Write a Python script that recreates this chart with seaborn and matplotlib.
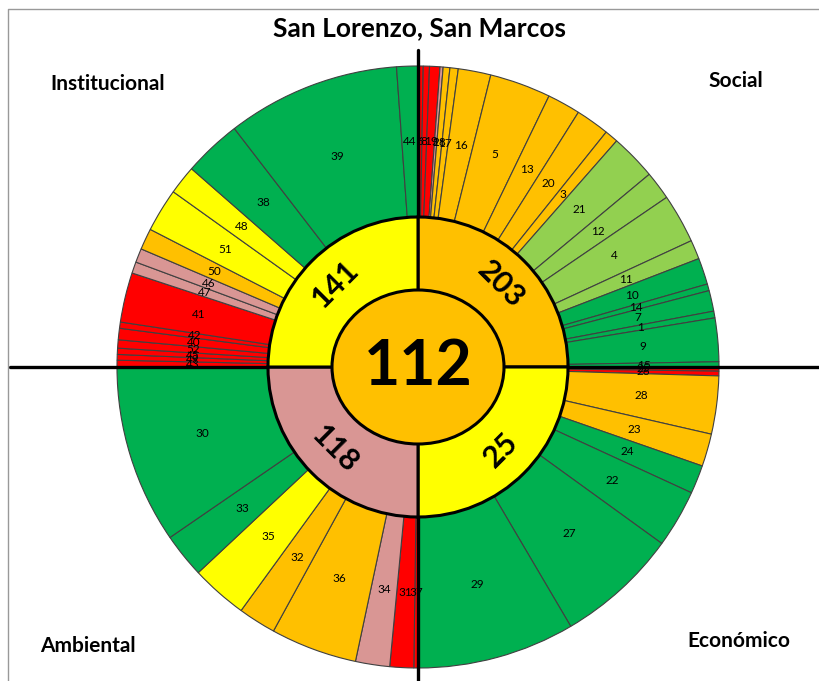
import numpy as np
import matplotlib
matplotlib.use("Agg")
import matplotlib.pyplot as plt
from matplotlib.patches import Ellipse
from matplotlib.lines import Line2D
import seaborn as sns

# indicator ids, angular share (deg) and status colour key, clockwise from the top
social_ids = ["6", "8", "19", "2", "18", "17", "16", "5", "13", "20", "3",
              "21", "12", "4", "11", "10", "14", "7", "1", "9", "15"]
social_deg = [1.0, 1.2, 2.0, 0.6, 1.3, 1.6, 6.3, 11.8, 6.4, 6.5, 2.6,
              8.9, 5.5, 9.5, 3.7, 5.1, 1.3, 4.0, 1.3, 8.4, 1.0]
social_status = ["red", "red", "red", "pink", "orange", "orange", "orange", "orange",
                 "orange", "orange", "orange", "lgreen", "lgreen", "lgreen", "lgreen",
                 "green", "green", "green", "green", "green", "green"]

econ_ids = ["25", "26", "28", "23", "24", "22", "27", "29"]
econ_deg = [0.8, 0.9, 11.2, 6.3, 5.5, 11.2, 23.6, 30.5]
econ_status = ["red", "red", "orange", "orange", "green", "green", "green", "green"]

amb_ids = ["37", "31", "34", "36", "32", "35", "33", "30"]
amb_deg = [0.8, 4.6, 6.6, 16.7, 7.3, 10.9, 8.6, 34.5]
amb_status = ["red", "red", "pink", "orange", "orange", "yellow", "green", "green"]

inst_ids = ["43", "49", "45", "52", "40", "42", "41", "47", "46", "50",
            "51", "48", "38", "39", "44"]
inst_deg = [1.3, 1.1, 1.2, 1.6, 2.2, 1.2, 9.6, 2.2, 2.7, 4.1,
            8.4, 5.6, 11.2, 33.5, 4.1]
inst_status = ["red", "red", "red", "red", "red", "red", "red", "pink", "pink", "orange",
               "yellow", "yellow", "green", "green", "green"]

dimensions = ["Social", "Económico", "Ambiental", "Institucional"]
dim_scores = [203, 25, 118, 141]
dim_status = ["orange", "yellow", "pink", "yellow"]
total_score = 112
title = "San Lorenzo, San Marcos"

palette = {"red": "#FF0000", "pink": "#D99694", "orange": "#FFC000",
           "yellow": "#FFFF00", "lgreen": "#92D050", "green": "#00B050"}

sns.set_theme(style="white")
plt.rcParams["font.family"] = ["Lato", "DejaVu Sans"]
plt.rcParams["text.color"] = "black"

W, H = 819, 681
cx, cy, R = 418, 367, 301  # centre and outer radius in pixels
fig = plt.figure(figsize=(W / 100, H / 100), dpi=100)
ax = fig.add_axes([0, 0, 1, 1])

outer_ids = social_ids + econ_ids + amb_ids + inst_ids
outer_deg = social_deg + econ_deg + amb_deg + inst_deg
outer_cols = [palette[s] for s in social_status + econ_status + amb_status + inst_status]

r_mid = 150 / R
ax.pie(outer_deg, labels=outer_ids, colors=outer_cols, radius=1.0, startangle=90,
       counterclock=False, labeldistance=(1 + r_mid) / 2,
       wedgeprops=dict(width=1 - r_mid, edgecolor="#404040", linewidth=0.8),
       textprops=dict(ha="center", va="center", fontsize=8.5, color="black"))

# quadrant cross
ax.axvline(0, ymin=0, ymax=1 - 50 / H, color="black", lw=2.4, zorder=2)
ax.axhline(0, xmin=10 / W, xmax=1, color="black", lw=2.4, zorder=2)

wedges, texts = ax.pie([90] * 4, labels=[str(v) for v in dim_scores],
                       colors=[palette[s] for s in dim_status], radius=r_mid,
                       startangle=90, counterclock=False, labeldistance=0.78,
                       wedgeprops=dict(width=r_mid - 0.2, edgecolor="black",
                                       linewidth=2.2, zorder=3),
                       textprops=dict(ha="center", va="center", fontsize=22,
                                      fontweight="bold", color="black", zorder=6))
for t in texts:
    x, y = t.get_position()
    rot = np.degrees(np.arctan2(y, x)) - 90
    if rot <= -90:
        rot += 180
    t.set_rotation(rot)
    t.set_rotation_mode("anchor")

ax.add_patch(Ellipse((0, 0), 172 / R, 154 / R, facecolor=palette["orange"],
                     edgecolor="black", lw=2.2, zorder=4))
ax.text(0, 0, str(total_score), ha="center", va="center", fontsize=45,
        fontweight="bold", color="black", zorder=6)

ax.set_xlim(-cx / R, (W - cx) / R)
ax.set_ylim(-(H - cy) / R, cy / R)
ax.set_aspect("equal")
ax.axis("off")

fig.text(420 / W, 1 - 28 / H, title, ha="center", va="center", fontsize=19,
         fontweight="bold", color="black")
corner_pos = [(736, 81), (739, 641), (88, 646), (108, 84)]
for name, (px, py) in zip(dimensions, corner_pos):
    fig.text(px / W, 1 - py / H, name, ha="center", va="center", fontsize=15,
             fontweight="bold", color="black")

fig.add_artist(Line2D([8 / W, 8 / W, 1], [0, 1 - 9 / H, 1 - 9 / H],
                      transform=fig.transFigure, color="#999999", lw=1))

fig.savefig("out.png", dpi=100)
